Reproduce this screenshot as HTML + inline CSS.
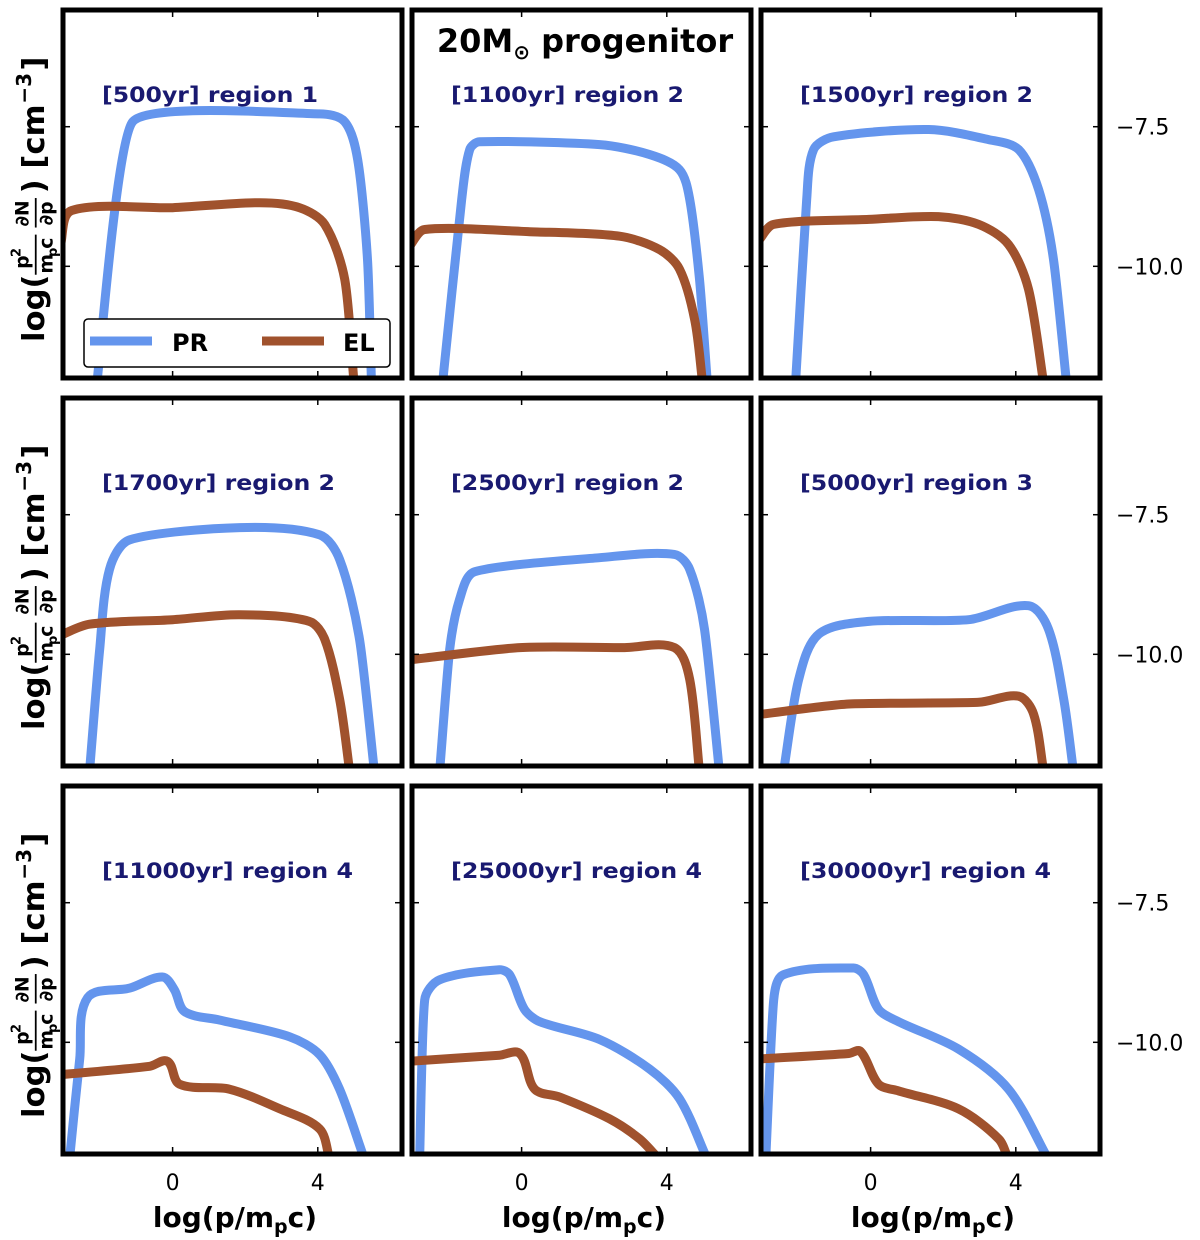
<!DOCTYPE html>
<html><head><meta charset="utf-8"><style>
html,body{margin:0;padding:0;background:#fff;}
svg{display:block;font-family:"DejaVu Sans","Liberation Sans",sans-serif;}
</style></head><body>
<svg id="fig" width="1200" height="1240" viewBox="0 0 1200 1240" xmlns="http://www.w3.org/2000/svg">
<text x="585" y="52" text-anchor="middle" font-size="32" font-weight="bold">20M<tspan font-size="20" dy="7">⊙</tspan><tspan dy="-7"> progenitor</tspan></text>
</svg>
<script>
const panelTitles = ["[500yr] region 1","[1100yr] region 2","[1500yr] region 2","[1700yr] region 2","[2500yr] region 2","[5000yr] region 3","[11000yr] region 4","[25000yr] region 4","[30000yr] region 4"];
const xTicks = [0, 4];
const yTicks = [-7.5, -10.0];
const yTickLabels = ["\u22127.5", "\u221210.0"];
const prX = [
 [-2.09,-1.1,4.05,4.74,5.1,5.37,5.48],
 [-2.18,-1.65,-1.43,-1.16,2.15,3.53,4.35,4.63,4.9,5.12],
 [-2.07,-1.76,-1.57,-1.02,1.6,3.25,4.08,4.63,5.04,5.4],
 [-2.29,-2.01,-1.74,-1.18,1.85,4.05,4.6,5.15,5.56],
 [-2.26,-1.98,-1.71,-1.29,2.15,4.21,4.63,5.04,5.45],
 [-2.4,-1.98,-1.43,-0.05,2.7,4.35,4.9,5.32,5.59],
 [-2.84,-2.56,-2.34,-1.18,-0.28,0.05,0.33,1.29,3.22,4.05,4.6,5.29],
 [-2.81,-2.67,-2.26,-0.61,-0.33,0.08,0.5,2.15,3.53,4.35,5.12],
 [-2.89,-2.67,-2.4,-0.47,-0.19,0.22,0.77,2.42,3.8,4.9]];
const prY = [
 [-12.1,-7.41,-7.27,-7.41,-8.09,-9.88,-12.1],
 [-12.1,-8.8,-7.91,-7.77,-7.82,-8.0,-8.27,-8.8,-10.23,-12.1],
 [-12.1,-8.8,-7.91,-7.68,-7.55,-7.73,-7.91,-8.63,-9.88,-12.1],
 [-12.1,-9.91,-8.48,-7.95,-7.73,-7.86,-8.3,-9.73,-12.1],
 [-12.1,-9.91,-9.02,-8.52,-8.27,-8.21,-8.48,-9.55,-12.1],
 [-12.1,-10.45,-9.64,-9.41,-9.38,-9.13,-9.55,-10.8,-12.1],
 [-12.1,-10.3,-9.2,-9.03,-8.83,-9.06,-9.45,-9.6,-9.9,-10.22,-10.84,-12.1],
 [-12.1,-9.24,-8.88,-8.7,-8.79,-9.41,-9.63,-9.95,-10.48,-11.01,-12.1],
 [-12.1,-9.24,-8.79,-8.67,-8.79,-9.41,-9.63,-10.12,-10.84,-12.1]];
const elX = [
 [-3.1,-2.78,0,2.4,3.5,4.19,4.74,5.0],
 [-3.1,-2.67,0.22,2.7,3.8,4.35,4.77,4.99],
 [-3.1,-2.67,-0.05,1.87,2.98,3.8,4.35,4.77],
 [-3.1,-2.29,0,1.85,3.77,4.19,4.6,4.88],
 [-3.1,-0.05,2.84,4.21,4.63,4.9],
 [-3.1,-0.6,2.98,4.08,4.49,4.77],
 [-3.1,-0.63,-0.14,0.19,1.57,2.95,4.05,4.33],
 [-3.1,-0.61,-0.05,0.36,1.05,2.42,3.25,3.8],
 [-3.1,-0.6,-0.28,0.22,0.77,2.42,3.53,3.8]];
const elY = [
 [-9.65,-9.0,-8.95,-8.86,-8.95,-9.25,-10.23,-12.1],
 [-9.65,-9.34,-9.38,-9.46,-9.7,-10.05,-10.96,-12.1],
 [-9.55,-9.25,-9.16,-9.11,-9.25,-9.61,-10.41,-12.1],
 [-9.66,-9.46,-9.38,-9.29,-9.41,-9.73,-10.8,-12.1],
 [-10.1,-9.88,-9.88,-9.88,-10.45,-12.1],
 [-11.08,-10.89,-10.86,-10.75,-11.07,-12.1],
 [-10.58,-10.43,-10.34,-10.75,-10.84,-11.19,-11.55,-12.1],
 [-10.34,-10.23,-10.2,-10.84,-10.98,-11.37,-11.73,-12.1],
 [-10.3,-10.2,-10.16,-10.75,-10.87,-11.19,-11.73,-12.1]];

const NS = "http://www.w3.org/2000/svg";
const svg = document.getElementById("fig");
const colL = [63, 412, 761], colW = 339;
const rowT = [10, 398, 786], rowH = 368;
const xMin = -3.02, xMax = 6.32, yMin = -12.0, yMax = -5.41;
function mk(tag, attrs, parent){const e=document.createElementNS(NS,tag);for(const k in attrs)e.setAttribute(k,attrs[k]);(parent||svg).appendChild(e);return e;}
function sx(c, v){return colL[c] + (v - xMin) / (xMax - xMin) * colW;}
function sy(r, v){return rowT[r] + (yMax - v) / (yMax - yMin) * rowH;}
function tang(P, i){
  const a = P[Math.max(0, i - 1)], b = P[Math.min(P.length - 1, i + 1)];
  const dx = b[0] - a[0], dy = b[1] - a[1], L = Math.hypot(dx, dy) || 1;
  return [dx / L, dy / L];
}
function smooth(P){
  const f = v => v.toFixed(1);
  let d = "M" + f(P[0][0]) + "," + f(P[0][1]);
  for (let i = 0; i < P.length - 1; i++) {
    const p1 = P[i], p2 = P[i + 1];
    const seg = Math.hypot(p2[0] - p1[0], p2[1] - p1[1]);
    const L = Math.min(seg * 0.3, 25);
    const t1 = tang(P, i), t2 = tang(P, i + 1);
    d += " C" + f(p1[0] + t1[0] * L) + "," + f(p1[1] + t1[1] * L) + " " + f(p2[0] - t2[0] * L) + "," + f(p2[1] - t2[1] * L) + " " + f(p2[0]) + "," + f(p2[1]);
  }
  return d;
}
const defs = mk("defs", {});
for (let i = 0; i < 9; i++) {
  const c = i % 3, r = Math.floor(i / 3);
  const cp = mk("clipPath", {id: "cp" + i}, defs);
  mk("rect", {x: colL[c], y: rowT[r], width: colW, height: rowH}, cp);
  const g = mk("g", {});
  
  
  const pg = mk("g", {"clip-path": "url(#cp" + i + ")"}, g);
  const pts = (xs, ys) => xs.map((x, k) => [sx(c, x), sy(r, ys[k])]);
  const pr = mk("path", {d: smooth(pts(prX[i], prY[i])), fill: "none", stroke: "#6495ed", "stroke-width": 9, "stroke-linejoin": "round", "stroke-linecap": "round"}, pg);
  
  
  const el = mk("path", {d: smooth(pts(elX[i], elY[i])), fill: "none", stroke: "#a0522d", "stroke-width": 9, "stroke-linejoin": "round", "stroke-linecap": "round"}, pg);
  
  
  xTicks.forEach(t => {
    const x = sx(c, t);
    mk("line", {x1: x, x2: x, y1: rowT[r], y2: rowT[r] + 7, stroke: "#000", "stroke-width": 1.5}, g);
    mk("line", {x1: x, x2: x, y1: rowT[r] + rowH, y2: rowT[r] + rowH - 7, stroke: "#000", "stroke-width": 1.5}, g);
  });
  yTicks.forEach(t => {
    const y = sy(r, t);
    mk("line", {x1: colL[c], x2: colL[c] + 7, y1: y, y2: y, stroke: "#000", "stroke-width": 1.5}, g);
    mk("line", {x1: colL[c] + colW, x2: colL[c] + colW - 7, y1: y, y2: y, stroke: "#000", "stroke-width": 1.5}, g);
  });
  const fr = mk("rect", {x: colL[c], y: rowT[r], width: colW, height: rowH, fill: "none", stroke: "#000", "stroke-width": 5}, g);
  
  
  const tt = mk("text", {x: colL[c] + 39, y: rowT[r] + 92, "font-size": 21, "font-weight": "bold", fill: "#191970", textLength: 216, lengthAdjust: "spacingAndGlyphs"}, g);
  if (i >= 6) tt.setAttribute("textLength", 251);
  else if (i >= 1) tt.setAttribute("textLength", 233);
  tt.textContent = panelTitles[i];
  
  
  if (c === 2) {
    yTicks.forEach((t, k) => {
      const tl = mk("text", {x: 1116, y: sy(r, t) + 8, "font-size": 22}, svg);
      tl.textContent = yTickLabels[k];
      
      
    });
  }
  if (c === 0) {
    const yg = mk("g", {transform: "translate(44," + (rowT[r] + 332) + ") rotate(-90) scale(1.18)", "font-weight": "bold"}, svg);
    
    
    const parts = [
      ["log(", 0, 0, 26], ["p", 62, -13, 16], ["2", 72, -20, 11], ["m", 58, 7, 16], ["p", 72, 11, 11], ["c", 79, 7, 16],
      ["∂N", 98, -13, 16], ["∂p", 99, 7, 16], [") [cm", 126, 0, 26], ["−3", 202, -11, 17], ["]", 230, 0, 26]];
    parts.forEach(p => { const t = mk("text", {x: p[1], y: p[2], "font-size": p[3]}, yg); t.textContent = p[0]; });
    mk("line", {x1: 57, x2: 91, y1: -7, y2: -7, stroke: "#000", "stroke-width": 1.5}, yg);
    mk("line", {x1: 97, x2: 122, y1: -7, y2: -7, stroke: "#000", "stroke-width": 1.5}, yg);
  }
  if (r === 2) {
    xTicks.forEach(t => {
      const xl = mk("text", {x: sx(c, t), y: 1190, "text-anchor": "middle", "font-size": 22}, svg);
      xl.textContent = t;
      
      
    });
    const xt = mk("text", {x: colL[c] + 172, y: 1227, "text-anchor": "middle", "font-size": 28, "font-weight": "bold"}, svg);
    xt.innerHTML = 'log(p/m<tspan font-size="19" dy="6">p</tspan><tspan dy="-6">c)</tspan>';
    
    
  }
}
const lg = mk("g", {});


mk("rect", {x: 84, y: 319, width: 306, height: 48, rx: 4, fill: "#fff", stroke: "#000", "stroke-width": 1.5}, lg);
mk("line", {x1: 90, x2: 152, y1: 341, y2: 341, stroke: "#6495ed", "stroke-width": 9}, lg);
const lt1 = mk("text", {x: 172, y: 351, "font-size": 24, "font-weight": "bold"}, lg);
lt1.textContent = "PR";


mk("line", {x1: 262, x2: 324, y1: 341, y2: 341, stroke: "#a0522d", "stroke-width": 9}, lg);
const lt2 = mk("text", {x: 343, y: 351, "font-size": 24, "font-weight": "bold"}, lg);
lt2.textContent = "EL";


</script>
</body></html>
